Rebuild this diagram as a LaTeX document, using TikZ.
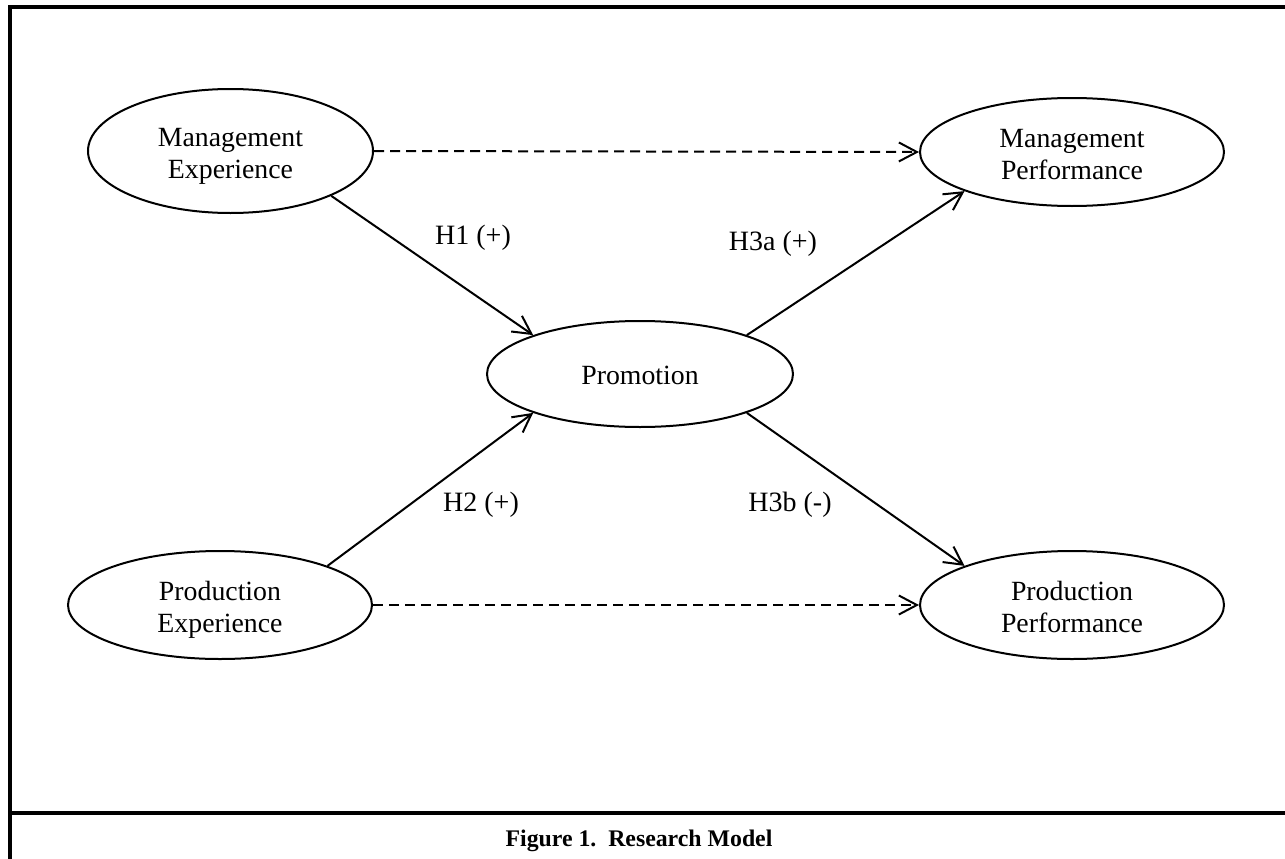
\documentclass[tikz,border=0pt]{standalone}
\usepackage{fontspec}
\setmainfont{Liberation Serif}
\usetikzlibrary{shapes.geometric,arrows.meta}
\begin{document}
\begin{tikzpicture}[x=1pt,y=-1pt,
  var/.style={draw,ellipse,line width=2pt,inner sep=0pt,align=center,
    font=\fontsize{27.8}{32}\selectfont},
  twoline/.style={text height=60pt,text depth=6pt},
  lbl/.style={anchor=base,inner sep=0pt,font=\fontsize{28}{32}\selectfont},
  link/.style={line width=2pt,-{Straight Barb[length=18pt,width=19pt]}},
  dlink/.style={link,dash pattern=on 10pt off 6pt},
  frame/.style={line width=3.3pt}]
\useasboundingbox (0,0) rectangle (1285,859);
\draw[frame] (10,859) -- (10,7) -- (1285,7);
\draw[frame] (10,813) -- (1285,813);
\node[var,twoline,minimum width=285pt,minimum height=124pt] (me) at (230.5,151) {Management\\Experience};
\node[var,twoline,minimum width=304pt,minimum height=108pt] (mp) at (1072,152) {Management\\Performance};
\node[var,text height=21pt,text depth=0pt,minimum width=306pt,minimum height=106pt] (pr) at (640,374) {Promotion};
\node[var,twoline,minimum width=304pt,minimum height=108pt] (pe) at (220,605) {Production\\Experience};
\node[var,twoline,minimum width=304pt,minimum height=108pt] (pp) at (1072,605) {Production\\Performance};
\draw[dlink] (me.east) -- (mp.west);
\draw[dlink] (pe.east) -- (pp.west);
\draw[link] (me.-24) -- (pr.160);
\draw[link] (pe.20) -- (pr.200);
\draw[link] (pr.20) -- (mp.200);
\draw[link] (pr.-20) -- (pp.160);
\node[lbl] (h1) at (473,244) {H1 (+)};
\node[lbl] (h3a) at (773,250) {H3a (+)};
\node[lbl] (h2) at (481,511) {H2 (+)};
\node[lbl] (h3b) at (790,511) {H3b (-)};
\node[anchor=base,inner sep=0pt,font=\fontsize{23.8}{28}\selectfont\bfseries] (cap) at (639,846) {Figure 1.\ \ Research Model};
\end{tikzpicture}
\end{document}
